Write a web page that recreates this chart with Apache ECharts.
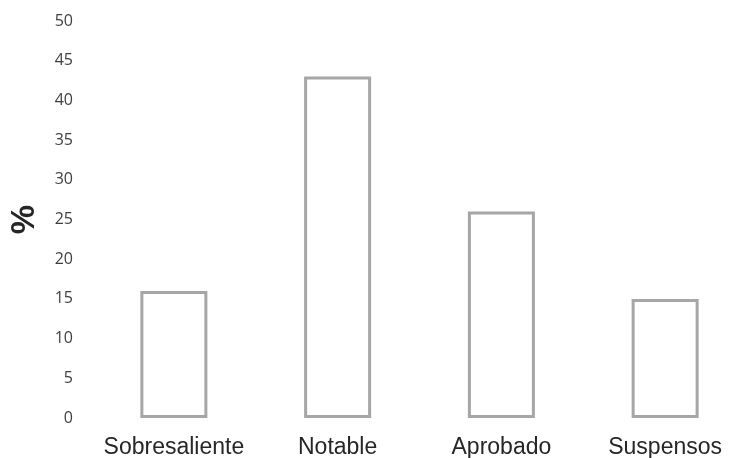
<!DOCTYPE html>
<html>
<head>
<meta charset="utf-8">
<script src="https://cdn.jsdelivr.net/npm/echarts@6/dist/echarts.min.js"></script>
<style>html,body{margin:0;padding:0;background:#fff}#c{width:729px;height:458px}</style>
</head>
<body>
<div id="c"></div>
<script>
var categories = ['Sobresaliente', 'Notable', 'Aprobado', 'Suspensos'];
var values = [16, 43, 26, 15];
var yTicks = [0, 5, 10, 15, 20, 25, 30, 35, 40, 45, 50];

var chart = echarts.init(document.getElementById('c'));
chart.setOption({
  animation: false,
  grid: { left: 92, top: 21, bottom: 40, width: 655, outerBoundsMode: 'none', containLabel: false },
  xAxis: {
    type: 'category',
    data: categories,
    axisLine: { show: false },
    axisTick: { show: false },
    axisLabel: { interval: 0, color: '#262626', fontSize: 23, fontFamily: 'Liberation Sans, Arial, sans-serif', margin: 18 }
  },
  yAxis: {
    type: 'value',
    min: yTicks[0],
    max: yTicks[yTicks.length - 1],
    interval: 5,
    name: '%',
    nameLocation: 'middle',
    nameGap: 51,
    nameRotate: 90,
    nameTextStyle: { fontSize: 33, fontWeight: 'bold', color: '#262626', fontFamily: 'Liberation Sans, Arial, sans-serif' },
    splitLine: { show: false },
    axisLine: { show: false },
    axisTick: { show: false },
    axisLabel: { color: '#404040', fontSize: 16, fontFamily: 'Open Sans, sans-serif', margin: 19 }
  },
  series: [{
    type: 'bar',
    data: values,
    barWidth: 67,
    itemStyle: { color: '#ffffff', borderColor: '#a6a6a6', borderWidth: 3 }
  }]
});
</script>
</body>
</html>
